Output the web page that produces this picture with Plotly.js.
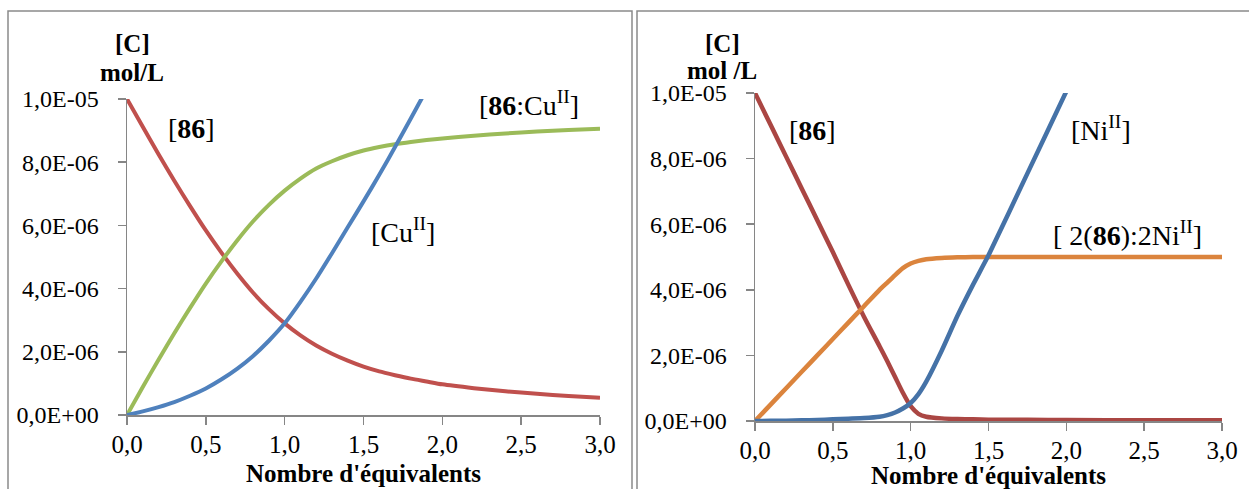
<!DOCTYPE html>
<html>
<head>
<meta charset="utf-8">
<script src="https://cdn.plot.ly/plotly-3.0.1.min.js"></script>
<style>
  html, body { margin: 0; padding: 0; background: #ffffff; }
  #chart { width: 1249px; height: 489px; }
</style>
</head>
<body>
<div id="chart"></div>
<script>
// ---------------- DATA ----------------
// Left panel: titration of 86 by Cu(II)
const xCu = [0, 0.1, 0.2, 0.3, 0.4, 0.5, 0.6, 0.7, 0.8, 0.9, 1.0, 1.1, 1.2, 1.3, 1.4, 1.5, 1.6, 1.7, 1.8, 1.9, 2.0, 2.2, 2.4, 2.6, 2.8, 3.0];
const ligandCu = [1.0e-5, 9.12e-6, 8.25e-6, 7.41e-6, 6.61e-6, 5.84e-6, 5.13e-6, 4.47e-6, 3.87e-6, 3.35e-6, 2.90e-6, 2.52e-6, 2.20e-6, 1.94e-6, 1.72e-6, 1.53e-6, 1.38e-6, 1.26e-6, 1.15e-6, 1.06e-6, 0.97e-6, 0.85e-6, 0.75e-6, 0.67e-6, 0.60e-6, 0.545e-6];
const complexCu = [0, 0.885e-6, 1.75e-6, 2.59e-6, 3.39e-6, 4.16e-6, 4.87e-6, 5.53e-6, 6.13e-6, 6.65e-6, 7.10e-6, 7.48e-6, 7.80e-6, 8.03e-6, 8.22e-6, 8.37e-6, 8.48e-6, 8.57e-6, 8.64e-6, 8.70e-6, 8.75e-6, 8.84e-6, 8.91e-6, 8.97e-6, 9.02e-6, 9.06e-6];
const xCuFree = [0, 0.1, 0.2, 0.3, 0.4, 0.5, 0.6, 0.7, 0.8, 0.9, 1.0, 1.1, 1.2, 1.3, 1.4, 1.5, 1.6, 1.7, 1.8, 1.9, 2.0];
const freeCu = [0, 0.115e-6, 0.25e-6, 0.41e-6, 0.61e-6, 0.84e-6, 1.13e-6, 1.47e-6, 1.87e-6, 2.35e-6, 2.90e-6, 3.58e-6, 4.32e-6, 5.12e-6, 5.94e-6, 6.76e-6, 7.60e-6, 8.48e-6, 9.38e-6, 10.3e-6, 11.2e-6];

// Right panel: titration of 86 by Ni(II)
const xNi = [0, 0.1, 0.2, 0.3, 0.4, 0.5, 0.6, 0.7, 0.8, 0.85, 0.9, 0.95, 1.0, 1.05, 1.1, 1.2, 1.3, 1.4, 1.5, 1.75, 2.0, 2.5, 3.0];
const ligandNi = [1.0e-5, 9.03e-6, 8.06e-6, 7.09e-6, 6.12e-6, 5.15e-6, 4.15e-6, 3.18e-6, 2.28e-6, 1.82e-6, 1.34e-6, 0.86e-6, 0.45e-6, 0.22e-6, 0.13e-6, 0.08e-6, 0.06e-6, 0.05e-6, 0.04e-6, 0.035e-6, 0.03e-6, 0.02e-6, 0.02e-6];
const complexNi = [0, 0.5e-6, 1.0e-6, 1.5e-6, 2.0e-6, 2.5e-6, 3.0e-6, 3.5e-6, 4.0e-6, 4.22e-6, 4.45e-6, 4.66e-6, 4.80e-6, 4.88e-6, 4.93e-6, 4.97e-6, 4.99e-6, 5.0e-6, 5.0e-6, 5.0e-6, 5.0e-6, 5.0e-6, 5.0e-6];
const freeNi = [0, 0.005e-6, 0.01e-6, 0.02e-6, 0.03e-6, 0.05e-6, 0.07e-6, 0.09e-6, 0.13e-6, 0.18e-6, 0.26e-6, 0.38e-6, 0.55e-6, 0.82e-6, 1.2e-6, 2.15e-6, 3.2e-6, 4.15e-6, 5.05e-6, 7.55e-6, 10.05e-6, 15.05e-6, 20.05e-6];

// Tick values / labels
const xTickVals = [0, 0.5, 1.0, 1.5, 2.0, 2.5, 3.0];
const xTickText = ["0,0", "0,5", "1,0", "1,5", "2,0", "2,5", "3,0"];
const yTickVals = [0, 2e-6, 4e-6, 6e-6, 8e-6, 1e-5];
const yTickText = ["0,0E+00", "2,0E-06", "4,0E-06", "6,0E-06", "8,0E-06", "1,0E-05"];

// ---------------- LAYOUT ----------------
const W = 1249, H = 489;
const px = v => v / W;           // pixel x -> paper
const py = v => (H - v) / H;     // pixel y (from top) -> paper

const SERIF = "Liberation Serif";
const AXC = "#868686";

function xAxis(dom, anchor, titleStandoff) {
  return {
    domain: dom, anchor: anchor, range: [0, 3],
    tickmode: "array", tickvals: xTickVals, ticktext: xTickText,
    ticks: "outside", ticklen: 8, tickwidth: 1.5, tickcolor: AXC,
    showline: true, linecolor: AXC, linewidth: 1.5,
    showgrid: false, zeroline: false, ticklabelstandoff: -2,
    tickfont: { family: SERIF, size: 25, color: "#000" },
    title: { text: "<b>Nombre d'équivalents</b>", font: { family: SERIF, size: 25, color: "#000" }, standoff: titleStandoff }
  };
}
function yAxis(dom, anchor) {
  return {
    domain: dom, anchor: anchor, range: [0, 1e-5],
    tickmode: "array", tickvals: yTickVals, ticktext: yTickText,
    ticks: "outside", ticklen: 8, tickwidth: 1.5, tickcolor: AXC,
    showline: true, linecolor: AXC, linewidth: 1.5,
    showgrid: false, zeroline: false, ticklabelstandoff: 14,
    tickfont: { family: SERIF, size: 24, color: "#000" }
  };
}

const traces = [
  { x: xCu, y: ligandCu, xaxis: "x", yaxis: "y", mode: "lines", line: { color: "#C0504D", width: 4, shape: "spline", smoothing: 0.6 }, name: "[86]" },
  { x: xCu, y: complexCu, xaxis: "x", yaxis: "y", mode: "lines", line: { color: "#9BBB59", width: 4, shape: "spline", smoothing: 0.6 }, name: "[86:CuII]" },
  { x: xCuFree, y: freeCu, xaxis: "x", yaxis: "y", mode: "lines", line: { color: "#4F81BD", width: 4, shape: "spline", smoothing: 0.6 }, name: "[CuII]" },
  { x: xNi, y: ligandNi, xaxis: "x2", yaxis: "y2", mode: "lines", line: { color: "#AA4643", width: 4.5, shape: "spline", smoothing: 0.7 }, name: "[86]" },
  { x: xNi, y: complexNi, xaxis: "x2", yaxis: "y2", mode: "lines", line: { color: "#DB843D", width: 4.5, shape: "spline", smoothing: 0.5 }, name: "[2(86):2NiII]" },
  { x: xNi, y: freeNi, xaxis: "x2", yaxis: "y2", mode: "lines", line: { color: "#4572A7", width: 4.5, shape: "spline", smoothing: 0.5 }, name: "[NiII]" }
];

const annFont = { family: SERIF, size: 28, color: "#000" };
const titleFont = { family: SERIF, size: 25, color: "#000" };

function ann(xref, yref, x, y, text, font) {
  return { xref: xref, yref: yref, x: x, y: y, text: text, showarrow: false, font: font, xanchor: "center", yanchor: "middle" };
}

const annotations = [
  // left panel labels
  ann("x", "y", 0.41, 9.08e-6, "[<b>86</b>]", annFont),
  ann("x", "y", 2.55, 9.87e-6, "[<b>86</b>:Cu<sup>II</sup>]", annFont),
  ann("x", "y", 1.75, 5.85e-6, "[Cu<sup>II</sup>]", annFont),
  // right panel labels
  ann("x2", "y2", 0.37, 8.87e-6, "[<b>86</b>]", annFont),
  ann("x2", "y2", 2.22, 8.93e-6, "[Ni<sup>II</sup>]", annFont),
  ann("x2", "y2", 2.39, 5.73e-6, "[ 2(<b>86</b>):2Ni<sup>II</sup>]", annFont),
  // y-axis titles
  ann("paper", "paper", px(132), py(43), "<b>[C]</b>", titleFont),
  ann("paper", "paper", px(132), py(72), "<b>mol/L</b>", titleFont),
  ann("paper", "paper", px(722), py(43), "<b>[C]</b>", titleFont),
  ann("paper", "paper", px(722), py(70), "<b>mol /L</b>", titleFont)
];

const BC = "#8a8a8a";
const shapes = [
  { type: "rect", xref: "paper", yref: "paper", x0: px(8), x1: px(632), y0: -0.2, y1: py(11), line: { color: BC, width: 1.5 } },
  { type: "rect", xref: "paper", yref: "paper", x0: px(637), x1: 1.2, y0: -0.2, y1: py(11), line: { color: BC, width: 1.5 } }
];

const layout = {
  width: W, height: H,
  margin: { l: 0, r: 0, t: 0, b: 0 },
  paper_bgcolor: "#ffffff", plot_bgcolor: "#ffffff",
  showlegend: false,
  xaxis: xAxis([px(127), px(600)], "y", 8),
  yaxis: yAxis([py(415), py(99)], "x"),
  xaxis2: xAxis([px(755), px(1222)], "y2", 9),
  yaxis2: yAxis([py(421), py(93)], "x2"),
  annotations: annotations,
  shapes: shapes,
  font: { family: SERIF }
};

Plotly.newPlot("chart", traces, layout, { staticPlot: true, displayModeBar: false });
</script>
</body>
</html>
